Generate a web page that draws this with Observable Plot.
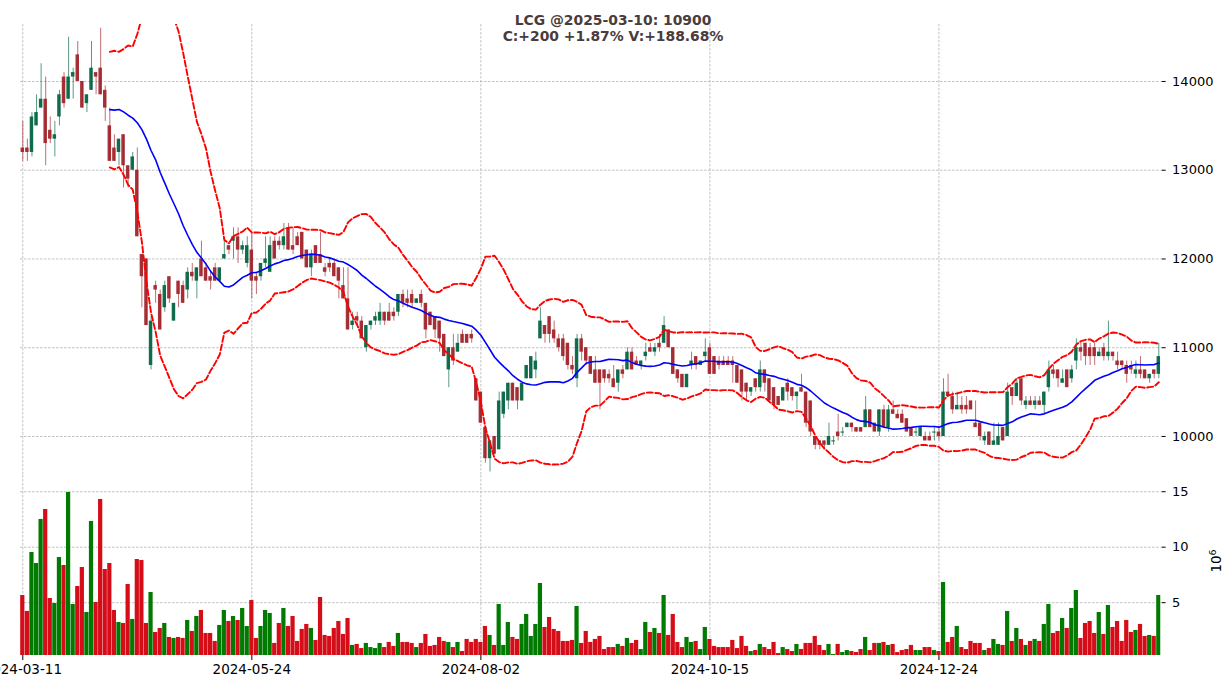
<!DOCTYPE html>
<html><head><meta charset="utf-8">
<script src="https://cdn.jsdelivr.net/npm/d3@7"></script>
<script src="https://cdn.jsdelivr.net/npm/@observablehq/plot@0.6"></script>
<style>
body{margin:0;background:#fff;}
#wrap{position:relative;width:1226px;height:690px;overflow:hidden;background:#fff;}
#charts svg{display:block;}
#title{position:absolute;left:0;width:1226px;top:12px;text-align:center;font:bold 13.9px "DejaVu Sans",sans-serif;line-height:16px;color:#4a3c3c;}
#unit{position:absolute;left:1216px;top:561px;transform:translate(-50%,-50%) rotate(-90deg);font:13.5px "DejaVu Sans",sans-serif;line-height:14px;color:#000;white-space:nowrap;}
#unit sup{font-size:9.5px;line-height:0;}
</style></head><body>
<div id="wrap"><div id="charts"></div>
<div id="title">LCG @2025-03-10: 10900<br>C:+200 +1.87% V:+188.68%</div>
<div id="unit">10<sup>6</sup></div></div>
<script>
const startDate = "2024-03-11", endDate = "2025-03-10";
const holidays = ["2024-04-18","2024-04-29","2024-04-30","2024-05-01","2024-09-02","2024-09-03","2025-01-01","2025-01-27","2025-01-28","2025-01-29","2025-01-30","2025-01-31"];
const tickDates = ["2024-03-11","2024-05-24","2024-08-02","2024-10-15","2024-12-24"];
const priceTicks = [10000,11000,12000,13000,14000];
const volumeTicks = [5,10,15];

const open = [
13250,13250,13200,13500,13700,13800,13450,13350,13600,14050,
13800,14050,14300,14000,13750,13900,14100,14150,13900,13500,
13250,13200,13400,13050,13000,13000,12050,12000,10800,11700,
11600,11450,11800,11300,11750,11700,11650,11850,11750,12000,
11900,11800,11900,11750,12000,12150,12200,12250,12100,11950,
12100,11800,11800,11950,11850,12200,12200,12150,12350,12150,
12250,12300,12100,11900,12150,12050,11900,11950,11950,11900,
11700,11550,11250,11350,11300,11000,11250,11300,11300,11400,
11400,11400,11400,11600,11550,11600,11500,11600,11500,11400,
11350,11300,11150,10750,11000,10950,11150,11150,11150,10650,
10500,10100,9750,10000,9850,10250,10400,10600,10550,10400,
10650,10650,10750,11100,11250,11350,11200,11100,11100,11050,
10800,10650,11100,11000,10900,10750,10750,10750,10700,10650,
10600,10750,10750,10950,10850,10800,10900,11000,10950,11050,
11050,11200,11000,10750,10700,10550,10800,10900,10800,10900,
11000,10900,10850,10850,10850,10850,10800,10750,10600,10500,
10650,10550,10750,10650,10550,10450,10400,10600,10550,10450,
10550,10500,10400,10000,9950,9950,9900,9950,10050,10050,
10100,10150,10100,10100,10100,10300,10150,10050,10300,10100,
10300,10250,10250,10200,10100,10050,10000,10000,10000,10050,
10050,10000,10500,10450,10300,10350,10350,10400,10150,10150,
9950,10050,9900,9900,10100,10000,10550,10450,10650,10350,
10400,10350,10400,10350,10550,10750,10750,10600,10750,10650,
10850,11000,11050,11000,11000,10900,11000,10900,10950,10850,
10850,10800,10800,10700,10750,10750,10650,10750,10700];
const high = [
13550,13350,13650,13850,14200,14050,13600,13550,13900,14100,
14500,14150,14450,14000,13850,14450,14100,14600,13950,13700,
13400,13350,13400,13050,13200,13250,12050,12000,11350,11750,
11650,11750,11800,11500,11750,11750,11900,11950,11900,12200,
11950,11850,11950,11900,12200,12150,12350,12350,12200,12250,
12300,11850,11950,12250,12250,12250,12250,12400,12400,12350,
12300,12300,12100,12100,12150,12300,11950,12000,12000,11900,
11900,11900,11400,11400,11350,11250,11300,11400,11500,11400,
11500,11450,11600,11650,11650,11650,11550,11650,11500,11400,
11350,11300,11150,11000,11150,11150,11200,11150,11200,10650,
10500,10100,9950,10000,10500,10500,10600,10600,10550,10600,
10800,10900,10950,11450,11250,11350,11300,11150,11150,11050,
10900,11150,11150,11000,10900,10900,10750,10750,10750,10800,
10750,10800,11000,11000,10900,10850,11050,11050,11050,11150,
11350,11200,11000,10750,10700,10700,10950,10900,10850,11100,
11050,10900,10900,10900,10900,10900,10800,10750,10600,10550,
10650,10850,10750,10650,10550,10450,10550,10650,10550,10500,
10700,10500,10400,10000,9950,9950,10150,10000,10250,10100,
10150,10150,10100,10100,10450,10300,10150,10300,10350,10350,
10400,10300,10300,10200,10100,10100,10100,10050,10050,10100,
10100,10650,10700,10500,10500,10450,10450,10400,10400,10150,
10050,10050,10150,10150,10100,10600,10550,10650,10650,10450,
10450,10450,10450,10500,10850,10800,10750,10750,10750,10800,
11100,11050,11050,11050,11050,11000,11050,11300,10950,10950,
10850,10850,10850,10850,10900,10750,10700,10750,11050];
const low = [
13100,13100,13150,13500,13700,13050,13300,13150,13500,13700,
13800,13800,14000,13700,13650,13900,13850,13850,13550,13100,
13100,13050,12800,12800,13000,12250,11450,11250,10750,11500,
11200,11400,11500,11300,11450,11500,11550,11750,11550,11800,
11750,11650,11750,11750,12000,12050,12000,11950,12050,11900,
11550,11600,11750,11900,11850,12000,12100,12100,12100,12050,
12150,12000,11900,11800,11950,11950,11800,11850,11800,11550,
11550,11200,11200,11250,11100,10950,11200,11250,11250,11250,
11300,11300,11350,11450,11450,11450,11500,11450,11100,11250,
11100,10950,10900,10550,10800,10950,11050,11050,11050,10400,
10150,9700,9600,9800,9850,10200,10300,10400,10300,10400,
10650,10650,10650,11100,11050,11050,11050,10950,10850,10750,
10700,10550,10850,10800,10700,10600,10300,10600,10600,10550,
10500,10650,10750,10750,10800,10750,10850,10950,10900,10950,
11050,11000,10700,10600,10550,10550,10750,10750,10800,10850,
10700,10700,10750,10800,10800,10600,10600,10400,10400,10450,
10500,10500,10500,10400,10300,10350,10400,10400,10400,10300,
10500,10100,10000,9850,9850,9850,9900,9900,9950,10000,
10100,10050,10050,10050,10100,10100,10050,10000,10100,10050,
10250,10200,10150,10050,10000,10000,10000,9950,9950,9950,
9950,10000,10450,10250,10300,10250,10250,10300,10100,9950,
9900,9900,9900,9900,9950,10000,10350,10450,10350,10300,
10350,10300,10350,10250,10500,10650,10550,10600,10550,10600,
10750,10850,10800,10800,10800,10900,10850,10850,10850,10750,
10750,10600,10700,10650,10650,10650,10600,10650,10650];
const close = [
13200,13200,13600,13650,13800,13300,13350,13400,13850,13750,
14050,14100,14000,13700,13850,14150,14050,13850,13700,13100,
13100,13350,13050,12900,13150,12250,11800,11250,11300,11650,
11200,11700,11550,11500,11600,11500,11850,11800,11900,11800,
11750,11750,11750,11900,12050,12100,12250,12100,12150,12150,
11750,11750,11950,12000,12150,12000,12150,12250,12100,12100,
12150,12000,11900,12050,11950,11950,11850,11900,11800,11750,
11550,11200,11300,11300,11100,11250,11300,11350,11400,11300,
11300,11350,11600,11500,11500,11500,11550,11500,11200,11250,
11200,11100,10900,11000,10850,11050,11050,11050,11100,10400,
10150,9750,9950,9800,10400,10500,10600,10400,10400,10600,
10800,10900,10850,11300,11150,11150,11100,11000,10900,10800,
10750,11100,10950,10850,10700,10600,10600,10650,10650,10550,
10750,10700,10950,10750,10800,10850,10950,10950,11000,11000,
11250,11000,10700,10650,10550,10700,10850,10800,10850,10950,
10700,10700,10800,10800,10800,10800,10600,10500,10500,10550,
10550,10750,10600,10400,10350,10350,10550,10500,10450,10500,
10500,10150,10050,9900,9900,9900,10000,9950,10000,10050,
10150,10100,10050,10050,10300,10100,10050,10300,10100,10300,
10250,10200,10150,10050,10000,10050,10100,9950,9950,10050,
10000,10500,10450,10300,10350,10300,10300,10300,10100,10000,
10000,9900,9950,10000,9950,10500,10450,10600,10400,10400,
10350,10400,10350,10500,10750,10700,10650,10650,10550,10750,
11000,10950,10900,10900,10900,10950,10900,10950,10900,10800,
10800,10700,10750,10750,10700,10650,10700,10700,10900];
const volume = [
5.65,4.21,9.52,8.53,12.50,13.40,5.38,4.93,9.07,8.35,
14.93,4.84,6.46,8.17,4.12,12.32,5.02,14.30,7.99,8.53,
4.30,3.22,3.13,6.64,3.49,8.89,8.80,3.13,5.92,2.32,
2.68,3.13,1.87,1.78,1.87,1.78,3.40,2.41,3.76,4.30,
2.23,2.23,1.51,2.95,4.30,3.31,3.76,3.40,4.48,2.86,
5.20,1.78,2.86,4.30,4.03,1.33,3.13,4.48,2.86,3.76,
1.51,2.59,3.04,2.68,1.60,5.47,2.05,1.96,2.68,3.31,
2.14,3.58,1.15,1.24,0.87,1.33,0.96,0.87,1.33,0.96,
1.42,1.06,2.23,1.42,1.42,1.33,0.96,1.33,2.14,1.06,
1.15,1.87,1.51,1.42,0.96,1.42,0.60,1.69,1.42,1.69,
1.42,2.86,2.05,1.15,4.84,1.15,3.22,1.87,1.69,3.04,
3.94,1.96,3.04,6.73,2.77,3.67,2.59,2.41,1.51,1.51,
1.60,4.66,1.33,2.41,1.42,1.69,1.96,0.78,0.96,0.96,
1.24,1.06,1.78,1.33,1.60,0.78,3.22,2.32,2.68,2.23,
5.65,2.05,3.94,1.42,0.96,1.87,1.42,1.51,0.78,2.77,
1.69,1.06,0.96,0.96,0.96,1.60,0.87,1.96,1.06,0.60,
0.69,1.24,0.96,0.78,1.42,0.42,0.96,0.78,0.60,1.24,
0.79,1.33,1.33,1.96,1.15,0.69,1.24,0.33,1.24,0.51,
0.69,0.60,0.51,0.78,1.87,0.69,1.33,1.33,1.42,1.15,
1.24,0.51,0.69,0.78,1.15,0.69,0.69,0.96,0.96,0.69,
0.60,6.82,1.42,1.87,2.86,0.96,0.78,1.51,1.33,1.33,
0.69,0.87,1.69,1.24,1.15,4.21,1.51,2.68,1.69,1.15,
1.51,1.69,1.51,3.04,4.84,2.23,2.41,3.58,2.68,4.48,
6.10,1.78,3.13,3.31,2.23,4.12,2.14,4.75,2.77,3.31,
1.51,3.40,2.32,2.50,3.04,1.96,2.05,1.96,5.65];

// trading calendar (weekdays minus exchange holidays)
const dates = [];
for (let t = new Date(startDate + "T00:00:00Z"); t <= new Date(endDate + "T00:00:00Z"); t.setUTCDate(t.getUTCDate() + 1)) {
  const wd = t.getUTCDay();
  const s = t.toISOString().slice(0, 10);
  if (wd !== 0 && wd !== 6 && !holidays.includes(s)) dates.push(s);
}
const n = Math.min(dates.length, close.length);
const rows = d3.range(n).map(i => ({i, date: dates[i], o: open[i], h: high[i], l: low[i], c: close[i], v: volume[i], up: close[i] >= open[i]}));

// 20-day Bollinger bands (mean ± 2σ of closes)
const bands = rows.map((r, i) => {
  if (i < 19) return {i, mid: NaN, upper: NaN, lower: NaN};
  const w = close.slice(i - 19, i + 1);
  const m = d3.mean(w), s = d3.deviation(w);
  return {i, mid: m, upper: m + 2 * s, lower: m - 2 * s};
});
const tickIdx = tickDates.map(d => dates.indexOf(d));

const UP = "#006340", DN = "#a02128", VUP = "#007a00", VDN = "#d50d18";
const W = 1226, ML = 20, MR = 65.4;
const xDomain = [-0.5, n - 0.5];
const grid = {stroke: "#b4b4b4", strokeWidth: 0.8, strokeDasharray: "2.6,1.4"};
const font = {fontFamily: "DejaVu Sans, sans-serif", fontSize: "13px", color: "#000", background: "transparent", overflow: "visible"};

const price = Plot.plot({
  width: W, height: 475, marginTop: 24, marginBottom: 0.5, marginLeft: ML, marginRight: MR,
  style: font,
  x: {type: "linear", domain: xDomain, axis: null},
  y: {domain: [9566, 14642], axis: null},
  color: {type: "identity"},
  marks: [
    Plot.ruleY(priceTicks, grid),
    Plot.ruleX(tickIdx, grid),
    Plot.ruleX(rows, {x: "i", y1: "l", y2: "h", stroke: d => d.up ? UP : DN, strokeOpacity: 0.65, strokeWidth: 1}),
    Plot.rect(rows, {x1: d => d.i - 0.38, x2: d => d.i + 0.38, y1: "o", y2: "c", fill: d => d.up ? UP : DN, fillOpacity: 0.92}),
    Plot.ruleY(rows.filter(d => d.o === d.c), {y: "o", x1: d => d.i - 0.38, x2: d => d.i + 0.38, stroke: d => d.up ? UP : DN, strokeWidth: 1}),
    Plot.line(bands, {x: "i", y: "upper", stroke: "#ff0000", strokeWidth: 1.9, strokeDasharray: "6,2.6", clip: true}),
    Plot.line(bands, {x: "i", y: "lower", stroke: "#ff0000", strokeWidth: 1.9, strokeDasharray: "6,2.6", clip: true}),
    Plot.line(bands, {x: "i", y: "mid", stroke: "#0000ff", strokeWidth: 1.6, clip: true}),
    Plot.axisY({anchor: "right", ticks: priceTicks, tickSize: 4, tickPadding: 7, tickFormat: d => String(d), label: null, fontSize: 13})
  ]
});

const vol = Plot.plot({
  width: W, height: 215, marginTop: 0, marginBottom: 35, marginLeft: ML, marginRight: MR,
  style: font,
  x: {type: "linear", domain: xDomain},
  y: {domain: [0.243, 16.46]},
  color: {type: "identity"},
  marks: [
    Plot.ruleY(volumeTicks, grid),
    Plot.ruleX(tickIdx, grid),
    Plot.rect(rows, {x1: d => d.i - 0.46, x2: d => d.i + 0.46, y1: 0, y2: "v", fill: d => d.up ? VUP : VDN, clip: true}),
    Plot.axisY({anchor: "right", ticks: volumeTicks, tickSize: 4, tickPadding: 7, label: null, fontSize: 13}),
    Plot.axisX({ticks: tickIdx, tickFormat: i => dates[i], tickSize: 5, tickPadding: 4, label: null, fontSize: 13.5})
  ]
});

const host = document.getElementById("charts");
host.append(price, vol);
</script>
</body></html>
